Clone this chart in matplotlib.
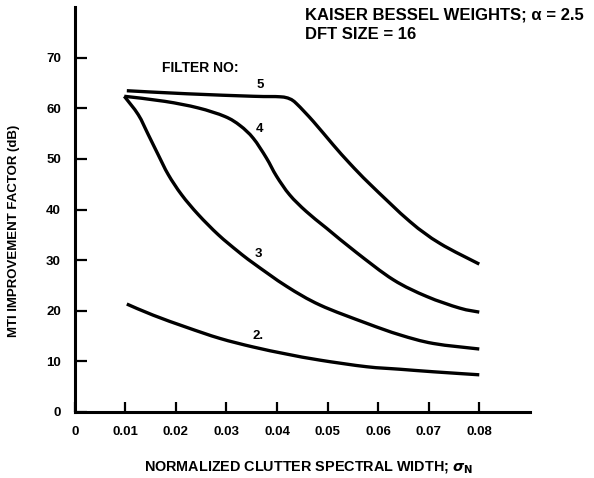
import matplotlib
matplotlib.use('Agg')
import matplotlib.pyplot as plt
import numpy as np
from matplotlib.path import Path
from matplotlib.patches import PathPatch

# values (normalized clutter width, MTI factor dB)
sigma5 = [0.0103, 0.0221, 0.0353, 0.0406, 0.0425, 0.0439, 0.0472, 0.0511, 0.0544, 0.0584, 0.0663, 0.0722, 0.0800]
mti5 = [63.5, 62.9, 62.4, 62.3, 61.9, 60.9, 57.4, 52.8, 49.1, 45.0, 37.6, 33.3, 29.2]

sigma4 = [0.0098, 0.0178, 0.0244, 0.0297, 0.0327, 0.0353, 0.0379, 0.0399, 0.0425, 0.0458, 0.0498, 0.0557, 0.0630, 0.0696, 0.0761, 0.0800]
mti4 = [62.4, 61.4, 60.1, 58.4, 56.6, 54.1, 50.2, 46.6, 42.9, 39.6, 36.3, 31.5, 26.1, 22.8, 20.5, 19.7]

sigma3 = [0.0098, 0.01257, 0.01455, 0.01652, 0.0185, 0.02115, 0.02443, 0.0284, 0.0323, 0.0353, 0.0419, 0.0485, 0.0577, 0.0643, 0.0709, 0.0800]
mti3 = [62.4, 58.75, 54.8, 50.8, 46.9, 42.9, 39.0, 35.0, 31.7, 29.4, 24.8, 21.1, 17.5, 15.2, 13.5, 12.4]

sigma2 = [0.0103, 0.0155, 0.0221, 0.0287, 0.0353, 0.0419, 0.0485, 0.0577, 0.0643, 0.0709, 0.0800]
mti2 = [21.3, 19.1, 16.7, 14.5, 12.8, 11.4, 10.2, 8.9, 8.4, 7.9, 7.3]

x_ticks = [0, 0.01, 0.02, 0.03, 0.04, 0.05, 0.06, 0.07, 0.08]
x_tick_labels = ['0', '0.01', '0.02', '0.03', '0.04', '0.05', '0.06', '0.07', '0.08']
y_ticks = [0, 10, 20, 30, 40, 50, 60, 70]


def smooth_path(xs, ys):
    # Catmull-Rom through the read points, turned into cubic bezier segments
    p = np.column_stack([xs, ys]).astype(float)
    ext = np.vstack([p[0], p, p[-1]])
    verts = [p[0]]
    codes = [Path.MOVETO]
    for i in range(1, len(ext) - 2):
        p0, p1, p2, p3 = ext[i - 1], ext[i], ext[i + 1], ext[i + 2]
        c1 = p1 + (p2 - p0) / 6.0
        c2 = p2 - (p3 - p1) / 6.0
        verts += [c1, c2, p2]
        codes += [Path.CURVE4] * 3
    return Path(verts, codes)


plt.rcParams['font.family'] = ['Liberation Sans', 'DejaVu Sans']
plt.rcParams['font.weight'] = 'bold'

fig = plt.figure(figsize=(5.94, 4.78), dpi=100)
ax = fig.add_axes([0.1258, 0.1387, 0.7662, 0.846])

for xs, ys in [(sigma5, mti5), (sigma4, mti4), (sigma3, mti3), (sigma2, mti2)]:
    ax.add_patch(PathPatch(smooth_path(xs, ys), facecolor='none', edgecolor='black',
                           linewidth=2.4, joinstyle='round', capstyle='butt'))

# curve labels
ax.text(0.0367, 64.7, '5', fontsize=9.5, fontweight='bold', ha='center', va='center')
ax.text(0.0365, 55.9, '4', fontsize=9.5, fontweight='bold', ha='center', va='center')
ax.text(0.0363, 31.2, '3', fontsize=9.5, fontweight='bold', ha='center', va='center')
ax.text(0.0363, 14.9, '2.', fontsize=9.5, fontweight='bold', ha='center', va='center')
ax.text(0.0172, 68.0, 'FILTER NO:', fontsize=10, fontweight='bold', ha='left', va='center')

ax.set_xlim(0, 0.090)
ax.set_ylim(0, 80)
ax.set_xticks(x_ticks)
ax.set_xticklabels(x_tick_labels)
ax.set_yticks(y_ticks)
ax.tick_params(axis='x', direction='in', length=7.2, width=1.6, pad=10, labelsize=9.5)
ax.tick_params(axis='y', direction='in', length=8.6, width=1.6, pad=10, labelsize=9.5)
for lab in ax.get_xticklabels() + ax.get_yticklabels():
    lab.set_fontweight('bold')

ax.spines['top'].set_visible(False)
ax.spines['right'].set_visible(False)
ax.spines['left'].set_linewidth(2.2)
ax.spines['bottom'].set_linewidth(2.2)

ax.set_ylabel('MTI IMPROVEMENT FACTOR (dB)', fontsize=9.5, fontweight='bold')
ax.yaxis.set_label_coords(-0.120, 0.447)
fig.text(0.5185, 0.024, 'NORMALIZED CLUTTER SPECTRAL WIDTH; $\\sigma_{\\mathbf{N}}$',
         fontsize=10.4, fontweight='bold', ha='center', va='center')

fig.text(0.5135, 0.9686, 'KAISER BESSEL WEIGHTS; α = 2.5', fontsize=12,
         fontweight='bold', ha='left', va='center')
fig.text(0.5135, 0.9268, 'DFT SIZE = 16', fontsize=12, fontweight='bold', ha='left', va='center')

fig.savefig('out.png', dpi=100)
